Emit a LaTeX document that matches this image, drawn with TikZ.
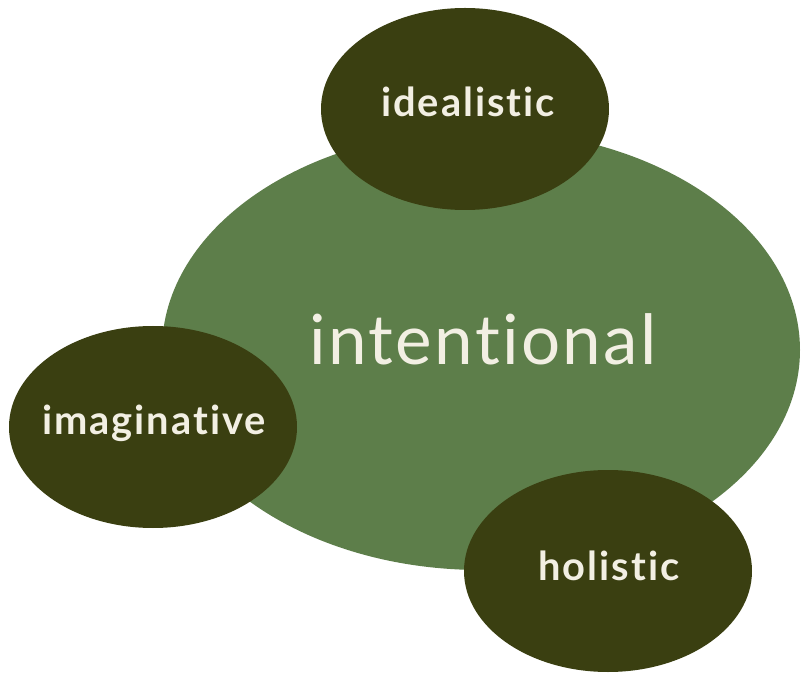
\documentclass[tikz,border=0pt]{standalone}
\usepackage{fontspec}
\setmainfont[Ligatures=NoCommon]{Lato}
\usetikzlibrary{shapes.geometric}
\definecolor{leafgreen}{HTML}{5D7E4A}
\definecolor{olivedark}{HTML}{3A3F11}
\definecolor{cream}{HTML}{F2EFE3}
\tikzset{
  trait/.style={ellipse, fill=olivedark, inner sep=0pt,
    minimum width=288*0.03cm, minimum height=202*0.03cm},
  traittext/.style={anchor=base, text=cream,
    font=\fontsize{34}{40}\selectfont\bfseries\addfontfeature{LetterSpace=5}}
}

\begin{document}
\begin{tikzpicture}[x=0.03cm, y=-0.03cm]
  \useasboundingbox (0,0) rectangle (808,682);
  % central value
  \node[ellipse, fill=leafgreen, inner sep=0pt, minimum width=638*0.03cm,
    minimum height=440*0.03cm] (core) at (481,350) {};
  \node[anchor=base, text=cream, font=\fontsize{59}{70}\selectfont\addfontfeature{LetterSpace=3.5}]
    (intentional) at (483,365) {intentional};
  % surrounding traits
  \node[trait] (idealisticblob) at (465,109) {};
  \node[traittext] (idealistic) at (468,117) {idealistic};
  \node[trait] (imaginativeblob) at (153,427) {};
  \node[traittext] (imaginative) at (154,435) {imaginative};
  \node[trait] (holisticblob) at (608,571) {};
  \node[traittext] (holistic) at (609,580) {holistic};
\end{tikzpicture}
\end{document}
